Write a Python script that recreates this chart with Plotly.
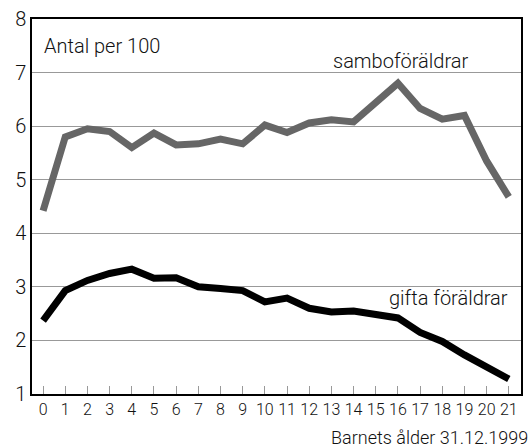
import plotly.graph_objects as go

# --------------------------------------------
# DATA
# --------------------------------------------
ages = list(range(22))
tick_text = [str(a) for a in ages]

sambo = [4.42, 5.80, 5.95, 5.90, 5.60, 5.87, 5.65, 5.67, 5.76, 5.67, 6.02,
         5.88, 6.06, 6.12, 6.08, 6.42, 6.80, 6.33, 6.13, 6.20, 5.35, 4.68]
gifta = [2.37, 2.93, 3.12, 3.25, 3.33, 3.16, 3.17, 3.00, 2.97, 2.93, 2.72,
         2.79, 2.60, 2.53, 2.55, 2.49, 2.42, 2.15, 1.98, 1.73, 1.50, 1.28]

FONT = "Roboto, Liberation Sans, Arial"

# --------------------------------------------
# FIGURE
# --------------------------------------------
fig = go.Figure()

fig.add_trace(go.Scatter(
    x=ages, y=sambo, mode="lines",
    line=dict(color="#666666", width=7),
    name="samboföräldrar", showlegend=False,
))
fig.add_trace(go.Scatter(
    x=ages, y=gifta, mode="lines",
    line=dict(color="#000000", width=7),
    name="gifta föräldrar", showlegend=False,
))

# labels
lbl = dict(size=20, color="#111111", weight=300)
fig.add_annotation(x=-0.05, y=7.5, text="Antal per 100", showarrow=False,
                   xanchor="left", yanchor="middle", font=lbl)
fig.add_annotation(x=16.1, y=7.22, text="samboföräldrar", showarrow=False,
                   xanchor="center", yanchor="middle", font=lbl)
fig.add_annotation(x=18.3, y=2.8, text="gifta föräldrar", showarrow=False,
                   xanchor="center", yanchor="middle", font=lbl)
fig.add_annotation(x=1, y=0, xref="paper", yref="paper", yshift=-43, xshift=9,
                   text="Barnets ålder 31.12.1999", showarrow=False,
                   xanchor="right", yanchor="middle",
                   font=dict(size=18, color="#111111", weight=300))

# --------------------------------------------
# LAYOUT
# --------------------------------------------
fig.update_layout(
    width=531, height=448,
    margin=dict(l=32, r=10, t=19, b=54),
    paper_bgcolor="white", plot_bgcolor="white",
    font=dict(family=FONT, color="#111111"),
)

fig.update_xaxes(
    range=[-0.5, 21.55], automargin=False,
    tickmode="array", tickvals=ages, ticktext=tick_text,
    ticks="inside", ticklen=8, tickcolor="#999999", tickwidth=1,
    tickfont=dict(size=16, weight=300),
    showgrid=False, zeroline=False,
    showline=True, linecolor="black", linewidth=1.5, mirror=True,
)
fig.update_yaxes(
    range=[1, 8], dtick=1, automargin=False,
    tickfont=dict(size=20, weight=300),
    showgrid=True, gridcolor="#999999", gridwidth=1,
    zeroline=False,
    showline=True, linecolor="black", linewidth=1.5, mirror=True,
)

fig.write_html("out.html", config={"displayModeBar": False},
               post_script="document.body.style.margin='0';")
